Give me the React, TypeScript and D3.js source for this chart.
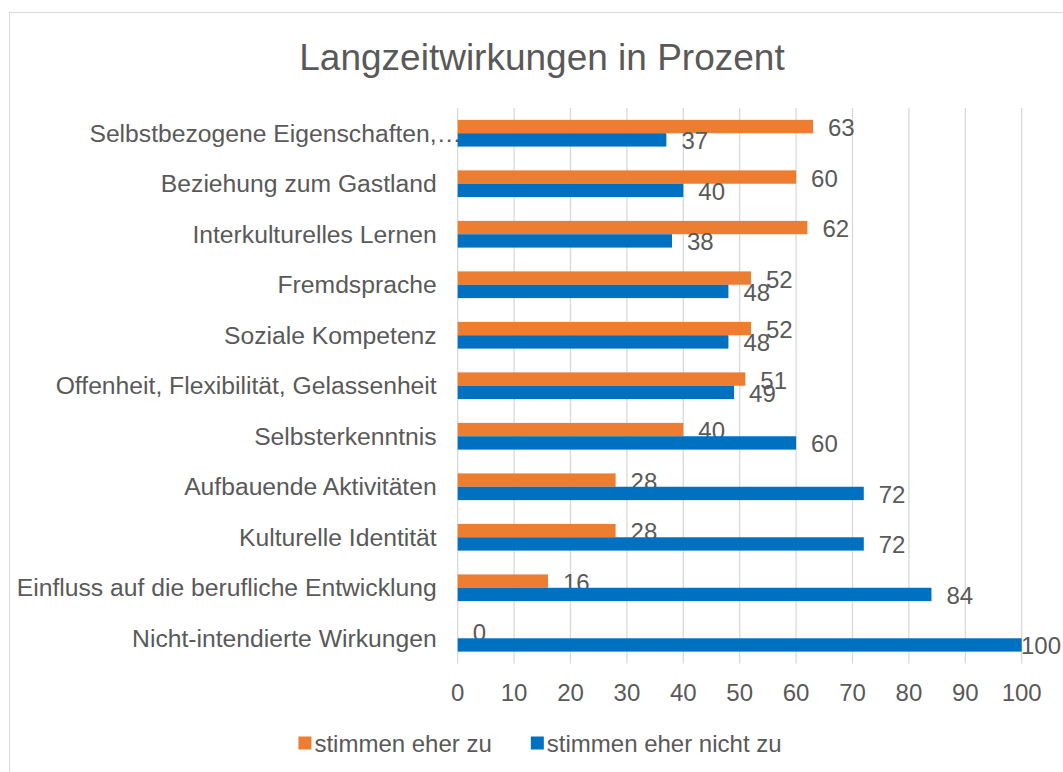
import { useEffect, useRef } from 'react';
import * as d3 from 'd3';

const CATEGORIES = [
  'Selbstbezogene Eigenschaften,…',
  'Beziehung zum Gastland',
  'Interkulturelles Lernen',
  'Fremdsprache',
  'Soziale Kompetenz',
  'Offenheit, Flexibilität, Gelassenheit',
  'Selbsterkenntnis',
  'Aufbauende Aktivitäten',
  'Kulturelle Identität',
  'Einfluss auf die berufliche Entwicklung',
  'Nicht-intendierte Wirkungen',
];
const AGREE = [63, 60, 62, 52, 52, 51, 40, 28, 28, 16, 0];
const DISAGREE = [37, 40, 38, 48, 48, 49, 60, 72, 72, 84, 100];
const SERIES_NAMES = ['stimmen eher zu', 'stimmen eher nicht zu'];
const X_TICKS = [0, 10, 20, 30, 40, 50, 60, 70, 80, 90, 100];
const TITLE = 'Langzeitwirkungen in Prozent';

const W = 1063;
const H = 772;
const PLOT = { left: 457.7, right: 1021.7, top: 108, bottom: 663.5 };
const COLORS = ['#ED7D31', '#0070C0'];
const TEXT = '#595959';
const GRID = '#D9D9D9';
const FONT = '"Liberation Sans", Arial, sans-serif';

export default function App() {
  const ref = useRef<SVGSVGElement | null>(null);

  useEffect(() => {
    if (!ref.current) return;
    const svg = d3.select(ref.current);
    svg.selectAll('*').remove();

    svg.append('rect')
      .attr('x', 9.5).attr('y', 12.5)
      .attr('width', 1200).attr('height', 900)
      .attr('fill', '#fff').attr('stroke', GRID);

    svg.append('text')
      .attr('x', 542).attr('y', 57)
      .attr('text-anchor', 'middle').attr('dominant-baseline', 'central')
      .attr('font-size', 37).attr('fill', TEXT)
      .text(TITLE);

    const x = d3.scaleLinear().domain([0, 100]).range([PLOT.left, PLOT.right]);
    const y = d3.scaleBand<string>()
      .domain(CATEGORIES)
      .range([PLOT.top, PLOT.bottom])
      .paddingInner(0.471)
      .paddingOuter(0.235);
    const sub = d3.scaleBand<string>().domain(SERIES_NAMES).range([0, y.bandwidth()]);

    // grid
    svg.append('g').selectAll('line').data(X_TICKS).join('line')
      .attr('x1', (d) => x(d)).attr('x2', (d) => x(d))
      .attr('y1', PLOT.top).attr('y2', PLOT.bottom)
      .attr('stroke', GRID).attr('stroke-width', 1.3);

    svg.append('g').selectAll('text').data(X_TICKS).join('text')
      .attr('x', (d) => x(d)).attr('y', 692)
      .attr('text-anchor', 'middle').attr('dominant-baseline', 'central')
      .attr('font-size', 24).attr('fill', TEXT)
      .text((d) => String(d));

    // category labels
    const cat = svg.append('g').attr('font-size', 24.7).attr('fill', TEXT);
    CATEGORIES.forEach((c) => {
      const cy = (y(c) ?? 0) + y.bandwidth() / 2;
      const truncated = c.endsWith('…');
      cat.append('text')
        .attr('x', PLOT.left - 21).attr('y', cy)
        .attr('text-anchor', 'end').attr('dominant-baseline', 'central')
        .text(truncated ? c.slice(0, -1) : c);
      if (truncated) {
        cat.append('text')
          .attr('x', PLOT.left - 21).attr('y', cy)
          .attr('dominant-baseline', 'central')
          .text('…');
      }
    });

    // bars + labels
    [AGREE, DISAGREE].forEach((vals, si) => {
      const name = SERIES_NAMES[si];
      const g = svg.append('g');
      vals.forEach((v, i) => {
        const top = (y(CATEGORIES[i]) ?? 0) + (sub(name) ?? 0);
        g.append('rect')
          .attr('x', x(0)).attr('y', top)
          .attr('width', x(v) - x(0)).attr('height', sub.bandwidth())
          .attr('fill', COLORS[si]);
        const lx = x(v) + 15;
        const tooWide = lx + String(v).length * 13.4 > W - 2;
        g.append('text')
          .attr('x', tooWide ? W - 2 : lx)
          .attr('y', top + sub.bandwidth() / 2 + 1)
          .attr('text-anchor', tooWide ? 'end' : 'start')
          .attr('dominant-baseline', 'central')
          .attr('font-size', 24).attr('fill', TEXT)
          .text(String(v));
      });
    });

    // legend
    const leg = svg.append('g').attr('font-size', 24).attr('fill', TEXT);
    const items = SERIES_NAMES.map((n, i) => {
      const item = leg.append('g');
      item.append('rect').attr('width', 13).attr('height', 13).attr('y', -6.5).attr('fill', COLORS[i]);
      const t = item.append('text').attr('x', 16).attr('dominant-baseline', 'central').text(n);
      const w = 16 + (t.node() as SVGTextElement).getComputedTextLength();
      return { item, w };
    });
    const gap = 39;
    const total = d3.sum(items, (d) => d.w) + gap * (items.length - 1);
    let cx = 540 - total / 2;
    items.forEach((d) => {
      d.item.attr('transform', `translate(${cx},743)`);
      cx += d.w + gap;
    });
  }, []);

  return (
    <svg
      ref={ref}
      width={W}
      height={H}
      style={{ position: 'absolute', left: 0, top: 0, fontFamily: FONT, background: '#fff' }}
    />
  );
}
